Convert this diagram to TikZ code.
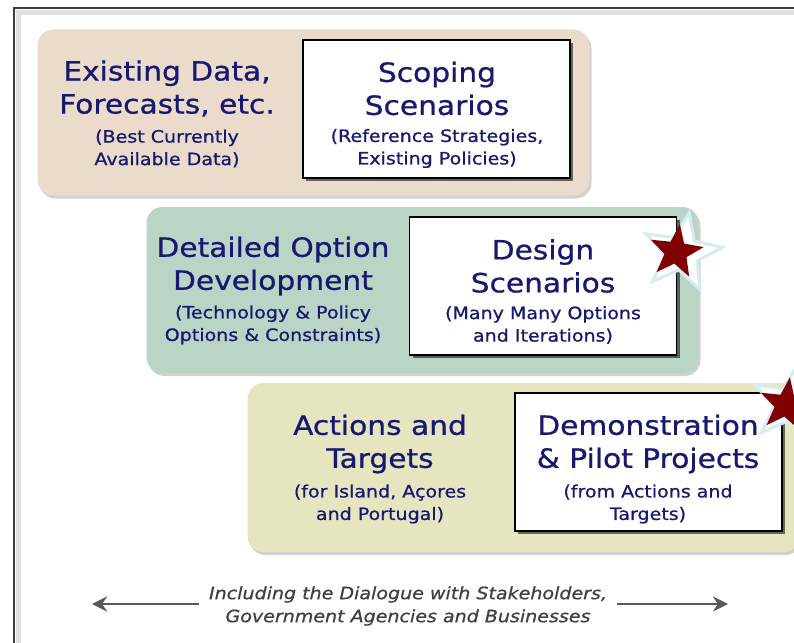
\documentclass[tikz,border=0pt]{standalone}
\usepackage{fontspec}
\setmainfont{DejaVu Sans}[FakeStretch=1.12, FakeBold=0.8]
\usepackage{xcolor}
\usetikzlibrary{positioning,arrows.meta,shapes.geometric,shadows}

\definecolor{inkblue}{RGB}{24,24,112}
\definecolor{sandpanel}{RGB}{235,219,202}
\definecolor{sagepanel}{RGB}{186,212,198}
\definecolor{olivepanel}{RGB}{229,229,192}
\definecolor{starred}{RGB}{128,0,0}
\definecolor{starglow}{RGB}{214,236,244}
\definecolor{framegray}{RGB}{60,60,60}

\begin{document}
\begin{tikzpicture}[
    x=1pt, y=-1pt,
    >=Stealth,
    panel/.style={
        rounded corners=16pt,
        minimum width=552pt, minimum height=166pt,
        inner sep=0pt,
        drop shadow={shadow xshift=2pt, shadow yshift=-3pt,
                     fill=black, opacity=0.18}
    },
    card/.style={
        draw=black, line width=1.6pt,
        fill=white,
        minimum width=267pt, minimum height=138pt,
        inner sep=0pt,
        drop shadow={shadow xshift=3pt, shadow yshift=-3pt,
                     fill=black, opacity=0.55}
    },
    head/.style={
        text=inkblue, align=center, inner sep=0pt,
        font=\fontsize{26.5}{33}\selectfont
    },
    note/.style={
        text=inkblue, align=center, inner sep=0pt,
        font=\fontsize{17}{22.5}\selectfont
    },
    glow/.style={
        star, star points=5, star point ratio=2.4,
        fill=white, draw=starglow, line width=3pt,
        minimum size=82pt, inner sep=0pt, rotate=-10
    },
    redstar/.style={
        star, star points=5, star point ratio=2.4,
        fill=starred, minimum size=56pt, inner sep=0pt, rotate=-8
    },
    arr/.style={
        draw=black!65, line width=2.6pt,
        arrows={-Stealth[length=15pt, width=15pt]}
    }
]

\useasboundingbox (0,0) rectangle (794,642);

% outer frame, cut off to the right and below
\draw[line width=5pt, black!12] (18.5,650) -- (18.5,12.5) -- (800,12.5);
\draw[line width=2.4pt, framegray] (14,650) -- (14,8) -- (800,8);

% first row
\node[panel, fill=sandpanel] (rowA) at (313.5,112.5) {};
\node[card] (scope) at (436.5,109) {};
\node[head] (dataT) at (167,88.5) {Existing Data,\\Forecasts, etc.};
\node[note] (dataS) at (167,148.5) {(Best Currently\\Available Data)};
\node[head] (scopeT) at (437,88.5) {Scoping\\Scenarios};
\node[note] (scopeS) at (437,148.5) {(Reference Strategies,\\Existing Policies)};

% second row
\node[panel, fill=sagepanel] (rowB) at (422.5,290) {};
\node[card] (design) at (543,286) {};
\node[head] (optT) at (273,266) {Detailed Option\\Development};
\node[note] (optS) at (273,325) {(Technology \& Policy\\Options \& Constraints)};
\node[head] (designT) at (543,266) {Design\\Scenarios};
\node[note] (designS) at (543,325) {(Many Many Options\\and Iterations)};

% third row
\node[panel, fill=olivepanel, minimum height=169pt] (rowC) at (523.5,467.5) {};
\node[card] (demo) at (648.5,462) {};
\node[head] (actT) at (380,444) {Actions and\\Targets};
\node[note] (actS) at (380,504) {(for Island, Açores\\and Portugal)};
\node[head] (demoT) at (648,444) {Demonstration\\\& Pilot Projects};
\node[note] (demoS) at (648,504) {(from Actions and\\Targets)};

% stars
\node[glow] (glowB) at (682,253) {};
\node[redstar] (starB) at (676,252) {};
\node[glow] (glowC) at (791,404) {};
\node[redstar] (starC) at (786,405) {};

% dialogue line
\node[text=black!75, align=center, inner sep=0pt,
      font=\fontsize{17}{23}\selectfont\itshape] (talk) at (408,606)
    {Including the Dialogue with Stakeholders,\\Government Agencies and Businesses};
\coordinate (leftEnd) at (92,604);
\coordinate (rightEnd) at (728,604);
\draw[arr] ([xshift=-10pt]talk.west |- leftEnd) -- (leftEnd);
\draw[arr] ([xshift=10pt]talk.east |- rightEnd) -- (rightEnd);

\end{tikzpicture}
\end{document}
